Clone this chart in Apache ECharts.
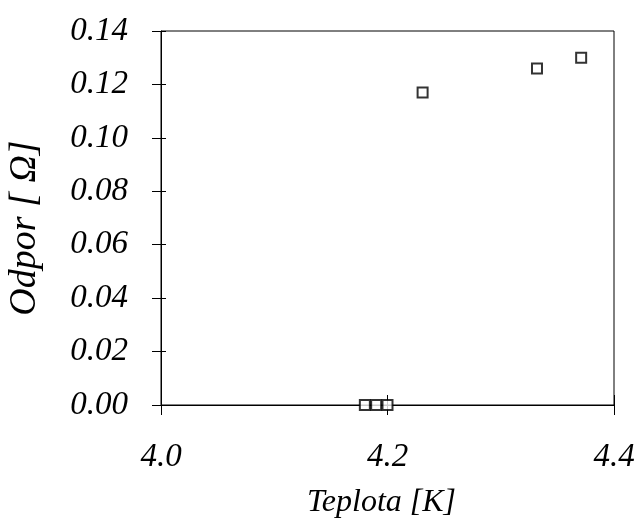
<!DOCTYPE html>
<html>
<head>
<meta charset="utf-8">
<script src="https://cdn.jsdelivr.net/npm/echarts@6/dist/echarts.min.js"></script>
<style>
  html, body { margin: 0; padding: 0; background: #fff; }
  #chart { width: 636px; height: 518px; }
</style>
</head>
<body>
<div id="chart"></div>
<script>
// Measured resistance versus temperature (superconducting transition)
const teplota = [4.18, 4.19, 4.20, 4.231, 4.332, 4.371];   // K
const odpor   = [0.000, 0.000, 0.000, 0.117, 0.126, 0.130]; // Ω

const xRange = { min: 4.0, max: 4.4, interval: 0.2 };
const yRange = { min: 0, max: 0.14, interval: 0.02 };

const serif = '"Liberation Serif", "Times New Roman", serif';
const tickFont = { fontFamily: serif, fontStyle: 'italic', fontSize: 33, color: '#000' };

const chart = echarts.init(document.getElementById('chart'), null, { renderer: 'canvas' });

chart.setOption({
  backgroundColor: '#fff',
  animation: false,
  grid: {
    left: 161, right: 22, top: 31, bottom: 113,
    containLabel: false, outerBoundsMode: 'none',
    show: true, borderColor: '#000', borderWidth: 1, backgroundColor: 'transparent'
  },
  xAxis: [
    {
      type: 'value', position: 'bottom', ...xRange,
      name: 'Teplota [K]', nameLocation: 'middle', nameGap: 82,
      nameTextStyle: { fontFamily: serif, fontStyle: 'italic', fontSize: 32, color: '#000', padding: [0, 12, 0, 0] },
      axisLine: { show: true, onZero: false, lineStyle: { color: '#000', width: 1 } },
      axisTick: { show: true, inside: false, length: 10, lineStyle: { color: '#000' } },
      axisLabel: { ...tickFont, margin: 36, formatter: v => v.toFixed(1) },
      splitLine: { show: false }
    },
    {
      // inner half of the crossing tick marks
      type: 'value', position: 'bottom', ...xRange,
      axisLine: { show: false },
      axisTick: { show: true, inside: true, length: 10, lineStyle: { color: '#000' } },
      axisLabel: { show: false },
      splitLine: { show: false }
    }
  ],
  yAxis: [
    {
      type: 'value', position: 'left', ...yRange,
      name: 'Odpor [ Ω]', nameLocation: 'middle', nameGap: 117,
      nameTextStyle: { fontFamily: serif, fontStyle: 'italic', fontSize: 38, color: '#000', padding: [0, 20, 0, 0] },
      axisLine: { show: true, onZero: false, lineStyle: { color: '#000', width: 1 } },
      axisTick: { show: true, inside: false, length: 9, lineStyle: { color: '#000' } },
      axisLabel: { ...tickFont, margin: 33, formatter: v => v.toFixed(2) },
      splitLine: { show: false }
    },
    {
      type: 'value', position: 'left', ...yRange,
      axisLine: { show: false },
      axisTick: { show: true, inside: true, length: 5, lineStyle: { color: '#000' } },
      axisLabel: { show: false },
      splitLine: { show: false }
    }
  ],
  series: [
    {
      type: 'scatter',
      xAxisIndex: 0, yAxisIndex: 0,
      data: teplota.map((t, i) => [t, odpor[i]]),
      symbol: 'rect',
      symbolSize: 10,
      itemStyle: { color: '#fff', borderColor: '#000', borderWidth: 2 },
      z: 5
    }
  ]
});
</script>
</body>
</html>
